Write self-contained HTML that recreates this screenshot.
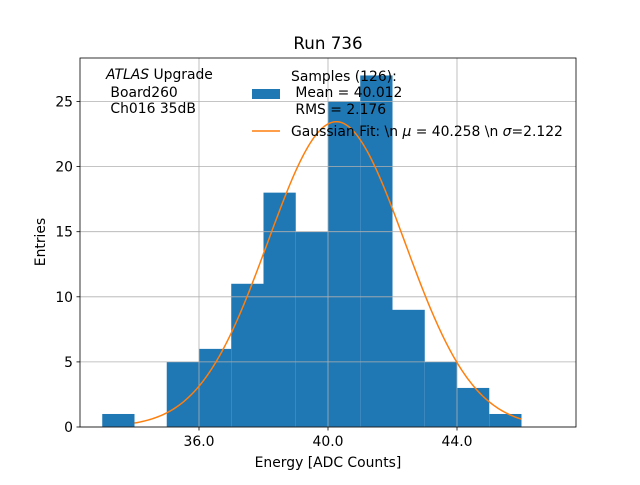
<!DOCTYPE html>
<html><head><meta charset="utf-8"><style>
body{margin:0;background:#fff;}
text{font-family:"DejaVu Sans","Liberation Sans",sans-serif;white-space:pre;}
</style></head><body>
<svg id="chart" width="640" height="480" xmlns="http://www.w3.org/2000/svg">
<rect width="640" height="480" fill="#fff"/>
<g id="bars"></g>
<g id="grid"></g>
<path id="fit" fill="none" stroke="#ff7f0e" stroke-width="1.5"/>
<rect x="80" y="58" width="496" height="369" fill="none" stroke="#000" stroke-width="0.8"/>
<g id="ticks" font-size="13.9"></g>
<text x="328" y="49" font-size="16.7" text-anchor="middle">Run 736</text>
<text x="328" y="467" font-size="13.9" text-anchor="middle">Energy [ADC Counts]</text>
<text x="45" y="242" font-size="13.9" text-anchor="middle" transform="rotate(-90 45 242)">Entries</text>
<g font-size="13.9">
<text x="106" y="79"><tspan font-style="italic">ATLAS</tspan> Upgrade</text>
<text x="106" y="97">&#160;Board260</text>
<text x="106" y="113">&#160;Ch016 35dB</text>
</g>
<g font-size="13.9">
<rect x="252" y="89" width="28" height="10" fill="#1f77b4"/>
<text x="291" y="81">Samples (126):</text>
<text x="291" y="97">&#160;Mean = 40.012</text>
<text x="291" y="114">&#160;RMS = 2.176</text>
<line x1="252" y1="131" x2="280" y2="131" stroke="#ff7f0e" stroke-width="1.5"/>
<text x="291" y="136">Gaussian Fit: \n <tspan font-style="italic">μ</tspan> = 40.258 \n <tspan font-style="italic">σ</tspan>=2.122</text>
</g>
</svg>
<script>
const binStarts=[33,34,35,36,37,38,39,40,41,42,43,44,45];
const counts=[1,0,5,6,11,18,15,25,27,9,5,3,1];
const xTicks=[36,40,44];
const xTickLabels=["36.0","40.0","44.0"];
const yTicks=[0,5,10,15,20,25];
const fitMu=40.258, fitSigma=2.122, fitAmp=23.45, fitMin=34, fitMax=46;
const NS="http://www.w3.org/2000/svg";
const X=v=>199+(v-36)*32.25;
const Y=v=>427-v*13.02;
const bars=document.getElementById('bars');
binStarts.forEach((b,i)=>{
  if(!counts[i])return;
  const r=document.createElementNS(NS,'rect');
  
  
  r.setAttribute('x',X(b));r.setAttribute('width',X(b+1)-X(b));
  r.setAttribute('y',Y(counts[i]));r.setAttribute('height',Y(0)-Y(counts[i]));
  r.setAttribute('fill','#1f77b4');bars.appendChild(r);
});
const grid=document.getElementById('grid'),ticks=document.getElementById('ticks');
function line(p,x1,y1,x2,y2,c,w){const l=document.createElementNS(NS,'line');l.setAttribute('x1',x1);l.setAttribute('y1',y1);l.setAttribute('x2',x2);l.setAttribute('y2',y2);l.setAttribute('stroke',c);l.setAttribute('stroke-width',w);p.appendChild(l);return l;}
function text(p,x,y,s,a){const t=document.createElementNS(NS,'text');t.setAttribute('x',x);t.setAttribute('y',y);t.setAttribute('text-anchor',a);t.textContent=s;p.appendChild(t);return t;}
xTicks.forEach((v,i)=>{
  const g=line(grid,X(v),58,X(v),427,'#b0b0b0',0.8);
  
  
  line(ticks,X(v),427,X(v),430.5,'#000',0.8);
  const t=text(ticks,X(v),446,xTickLabels[i],'middle');
  
  
});
yTicks.forEach(v=>{
  const g=line(grid,80,Y(v),576,Y(v),'#b0b0b0',0.8);
  
  
  line(ticks,76.5,Y(v),80,Y(v),'#000',0.8);
  const t=text(ticks,73,Y(v)+5,String(v),'end');
  
  
});
let d='';
for(let k=0;k<=200;k++){const x=fitMin+(fitMax-fitMin)*k/200;const y=fitAmp*Math.exp(-0.5*((x-fitMu)/fitSigma)**2);d+=(k?'L':'M')+X(x).toFixed(2)+' '+Y(y).toFixed(2);}
document.getElementById('fit').setAttribute('d',d);
</script>
</body></html>
